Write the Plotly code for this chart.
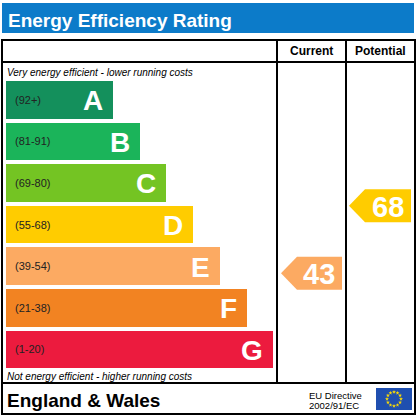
#!/usr/bin/env python3

import math

import plotly.graph_objects as go

# data
BANDS = ["A", "B", "C", "D", "E", "F", "G"]
RANGES = ["(92+)", "(81-91)", "(69-80)", "(55-68)", "(39-54)", "(21-38)", "(1-20)"]
RANGE_LO = [92, 81, 69, 55, 39, 21, 1]
RANGE_HI = [100, 91, 80, 68, 54, 38, 20]
COLORS = ["#14905c", "#1bb45a", "#74c423", "#ffcc00", "#fcaa62", "#f28322", "#ec1b3e"]
CURRENT = 43
POTENTIAL = 68

# layout (pixels)
W, H = 416, 420
BAR_X0 = 6
BAR_LEN0 = 107
BAR_STEP = 26.7
ROW_TOP0 = 81
ROW_PITCH = 41.6
BAR_H = 37.5
COL1, COL2, RIGHT = 277, 346, 415
BOX_TOP, HEAD_BOT, FOOT_TOP, BOX_BOT = 40, 62, 383, 414
FONT = "Liberation Sans, Arial, sans-serif"


def band_index(v):
    for i, (lo, hi) in enumerate(zip(RANGE_LO, RANGE_HI)):
        if lo <= v <= hi:
            return i
    return len(BANDS) - 1


def arrow_center(v):
    i = band_index(v)
    top = ROW_TOP0 + i * ROW_PITCH
    frac = (RANGE_HI[i] - v) / (RANGE_HI[i] - RANGE_LO[i] + 1)
    return top + frac * BAR_H


def main():
    fig = go.Figure()

    centers = [ROW_TOP0 + i * ROW_PITCH + BAR_H / 2 for i in range(len(BANDS))]
    lengths = [BAR_LEN0 + i * BAR_STEP for i in range(len(BANDS))]

    fig.add_trace(
        go.Bar(
            orientation="h",
            y=centers,
            x=lengths,
            base=BAR_X0,
            width=BAR_H,
            marker=dict(color=COLORS, line=dict(width=0)),
            hoverinfo="skip",
            showlegend=False,
        )
    )

    annotations = []
    for band, rng, yc, ln in zip(BANDS, RANGES, centers, lengths):
        annotations.append(dict(
            x=13, y=yc, text=rng, xanchor="left", yanchor="middle",
            font=dict(family=FONT, size=11, color="#222222"),
        ))
        annotations.append(dict(
            x=BAR_X0 + ln - 8, y=yc + 1, text="<b>%s</b>" % band,
            xanchor="right", yanchor="middle",
            font=dict(family=FONT, size=28, color="white"),
        ))

    # rating arrows
    for value, x0, x1 in [(CURRENT, COL1 + 4, COL2 - 4), (POTENTIAL, COL2 + 3, RIGHT - 4)]:
        yc = arrow_center(value)
        h = 33
        xs = [x0, x0 + 16, x1, x1, x0 + 16, x0]
        ys = [yc, yc - h / 2, yc - h / 2, yc + h / 2, yc + h / 2, yc]
        fig.add_trace(
            go.Scatter(
                x=xs, y=ys, mode="lines", fill="toself",
                fillcolor=COLORS[band_index(value)],
                line=dict(width=0), hoverinfo="skip", showlegend=False,
            )
        )
        annotations.append(dict(
            x=x1 - 5, y=yc + 1, text="<b>%d</b>" % value,
            xanchor="right", yanchor="middle",
            font=dict(family=FONT, size=29, color="white"),
        ))

    # EU flag stars
    fx, fy = 394, 399
    star_x = [fx + 7 * math.cos(2 * math.pi * k / 12) for k in range(12)]
    star_y = [fy + 7 * math.sin(2 * math.pi * k / 12) for k in range(12)]
    fig.add_trace(
        go.Scatter(
            x=star_x, y=star_y, mode="markers",
            marker=dict(symbol="star", size=3, color="#ffdd00", line=dict(width=0)),
            hoverinfo="skip", showlegend=False,
        )
    )

    annotations += [
        dict(x=6, y=20, text="<b>Energy Efficiency Rating</b>", xanchor="left",
             yanchor="middle", font=dict(family=FONT, size=19, color="white")),
        dict(x=(COL1 + COL2) / 2, y=51, text="<b>Current</b>", xanchor="center",
             yanchor="middle", font=dict(family=FONT, size=12, color="black")),
        dict(x=(COL2 + RIGHT) / 2, y=51, text="<b>Potential</b>", xanchor="center",
             yanchor="middle", font=dict(family=FONT, size=12, color="black")),
        dict(x=5, y=72, text="<i>Very energy efficient - lower running costs</i>",
             xanchor="left", yanchor="middle",
             font=dict(family=FONT, size=10, color="black")),
        dict(x=5, y=376, text="<i>Not energy efficient - higher running costs</i>",
             xanchor="left", yanchor="middle",
             font=dict(family=FONT, size=10, color="black")),
        dict(x=5, y=400, text="<b>England & Wales</b>", xanchor="left",
             yanchor="middle", font=dict(family=FONT, size=19, color="black")),
        dict(x=307, y=395, text="EU Directive", xanchor="left", yanchor="middle",
             font=dict(family=FONT, size=9.5, color="black")),
        dict(x=307, y=405, text="2002/91/EC", xanchor="left", yanchor="middle",
             font=dict(family=FONT, size=9.5, color="black")),
    ]
    for a in annotations:
        a.update(xref="x", yref="y", showarrow=False)

    line = dict(color="black", width=2)
    shapes = [
        dict(type="rect", x0=2, x1=414, y0=3, y1=33, fillcolor="#0c7bc9",
             line=dict(width=0), layer="below"),
        dict(type="rect", x0=376, x1=412, y0=388, y1=410, fillcolor="#1f4fb0",
             line=dict(width=0), layer="below"),
        dict(type="rect", x0=2, x1=RIGHT, y0=BOX_TOP, y1=BOX_BOT, line=line),
        dict(type="line", x0=2, x1=RIGHT, y0=HEAD_BOT, y1=HEAD_BOT, line=line),
        dict(type="line", x0=2, x1=RIGHT, y0=FOOT_TOP, y1=FOOT_TOP, line=line),
        dict(type="line", x0=COL1, x1=COL1, y0=BOX_TOP, y1=FOOT_TOP, line=line),
        dict(type="line", x0=COL2, x1=COL2, y0=BOX_TOP, y1=FOOT_TOP, line=line),
    ]
    for s in shapes:
        s.update(xref="x", yref="y")

    fig.update_layout(
        width=W, height=H,
        margin=dict(l=0, r=0, t=0, b=0),
        paper_bgcolor="white", plot_bgcolor="white",
        xaxis=dict(range=[0, W], visible=False, fixedrange=True),
        yaxis=dict(range=[H, 0], visible=False, fixedrange=True),
        annotations=annotations, shapes=shapes,
        bargap=0,
    )
    fig.write_html(
        "out.html",
        config={"displayModeBar": False},
        post_script="document.body.style.margin='0';document.body.style.overflow='hidden';",
    )


if __name__ == "__main__":
    main()
